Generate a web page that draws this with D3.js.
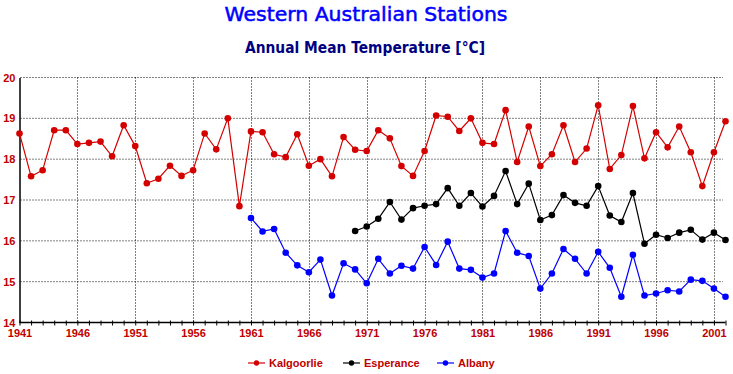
<!DOCTYPE html>
<html>
<head>
<meta charset="utf-8">
<script src="https://cdn.jsdelivr.net/npm/d3@7"></script>
<style>
  html, body { margin: 0; padding: 0; background: #fff; }
  svg { display: block; }
</style>
</head>
<body>
<svg id="chart" width="733" height="374"></svg>
<script>
const kalgoorlieYears = d3.range(1941, 2003);
const kalgoorlie = [18.63,17.58,17.73,18.71,18.71,18.37,18.40,18.43,18.07,18.83,
  18.32,17.41,17.52,17.84,17.59,17.73,18.63,18.24,19.00,16.85,
  18.68,18.66,18.12,18.05,18.61,17.84,18.00,17.58,18.54,18.23,
  18.20,18.71,18.51,17.83,17.59,18.20,19.07,19.04,18.69,19.00,
  18.40,18.37,19.20,17.93,18.80,17.83,18.12,18.83,17.93,18.26,
  19.32,17.76,18.10,19.30,18.02,18.66,18.29,18.80,18.17,17.34,
  18.17,18.93];
const esperanceYears = d3.range(1970, 2003);
const esperance = [16.24,16.35,16.54,16.95,16.52,16.80,16.86,16.90,17.29,16.86,17.17,
  16.84,17.10,17.71,16.90,17.40,16.51,16.63,17.12,16.93,16.86,
  17.34,16.62,16.46,17.17,15.93,16.15,16.07,16.20,16.27,16.03,
  16.20,16.02];
const albanyYears = d3.range(1961, 2003);
const albany = [16.56,16.23,16.29,15.71,15.40,15.23,15.54,14.66,15.45,15.30,
  14.96,15.56,15.20,15.39,15.32,15.85,15.41,15.98,15.32,15.29,
  15.10,15.20,16.24,15.71,15.63,14.83,15.20,15.80,15.56,15.20,
  15.73,15.34,14.63,15.66,14.66,14.71,14.79,14.76,15.05,15.02,
  14.83,14.63];
const xLabelYears = d3.range(1941, 2002, 5);
const yTicks = [14, 15, 16, 17, 18, 19, 20];
const seriesNames = ["Kalgoorlie", "Esperance", "Albany"];
const seriesColors = ["#d40000", "#000000", "#0000ff"];

const series = [
  { name: seriesNames[0], color: seriesColors[0], data: kalgoorlieYears.map((y, i) => [y, kalgoorlie[i]]) },
  { name: seriesNames[1], color: seriesColors[1], data: esperanceYears.map((y, i) => [y, esperance[i]]) },
  { name: seriesNames[2], color: seriesColors[2], data: albanyYears.map((y, i) => [y, albany[i]]) }
];

const svg = d3.select("#chart");
const x = d3.scaleLinear().domain([1941, 2002]).range([19.5, 725.5]);
const y = d3.scaleLinear().domain([14, 20]).range([322.5, 77.5]);
const labelColor = "#c00000";

// Titles
svg.append("text").attr("x", 366).attr("y", 21)
  .attr("text-anchor", "middle")
  .attr("font-family", "'DejaVu Sans', sans-serif")
  .attr("font-size", 19).attr("fill", "#0000ff")
  .attr("stroke", "#0000ff").attr("stroke-width", 0.5)
  .attr("textLength", 283).attr("lengthAdjust", "spacingAndGlyphs")
  .text("Western Australian Stations");
svg.append("text").attr("x", 365).attr("y", 52.5)
  .attr("text-anchor", "middle")
  .attr("font-family", "'DejaVu Sans', sans-serif")
  .attr("font-weight", "bold")
  .attr("font-size", 15).attr("fill", "#000080")
  .attr("textLength", 240).attr("lengthAdjust", "spacingAndGlyphs")
  .text("Annual Mean Temperature [°C]");

// Grid
const grid = svg.append("g").attr("stroke", "#000").attr("stroke-width", 1)
  .attr("stroke-dasharray", "1,2");
grid.selectAll("line.h").data(yTicks.filter(d => d > 14)).enter().append("line")
  .attr("x1", x(1941) + 1).attr("x2", 723)
  .attr("y1", d => y(d)).attr("y2", d => y(d));
grid.selectAll("line.v").data(xLabelYears.filter(d => d > 1941)).enter().append("line")
  .attr("x1", d => Math.round(x(d)) + 0.5).attr("x2", d => Math.round(x(d)) + 0.5)
  .attr("y1", y(20)).attr("y2", y(14));

// X axis
const xAxis = d3.axisBottom(x).tickValues(d3.range(1941, 2003)).tickSize(3)
  .tickFormat(d => (xLabelYears.includes(d) ? d : ""));
const gx = svg.append("g").attr("transform", `translate(0,${y(14)})`).call(xAxis);
gx.select(".domain").attr("d", `M${x(1941)},0H${x(2002)}`).attr("stroke", "#000").attr("stroke-width", 1.5);
gx.selectAll(".tick line").attr("y1", -2).attr("y2", 3).attr("stroke", "#000");
gx.selectAll(".tick text").attr("y", 14).attr("dy", 0)
  .attr("font-family", "'Liberation Sans', Arial, sans-serif")
  .attr("font-weight", "bold").attr("font-size", 11).attr("fill", labelColor);

// Y axis
const yAxis = d3.axisLeft(y).tickValues(yTicks).tickSize(0).tickPadding(4).tickFormat(d3.format("d"));
const gy = svg.append("g").attr("transform", `translate(${x(1941)},0)`).call(yAxis);
gy.select(".domain").attr("stroke", "#000").attr("stroke-width", 1.5);
gy.selectAll(".tick text").attr("dy", "0.32em")
  .attr("font-family", "'Liberation Sans', Arial, sans-serif")
  .attr("font-weight", "bold").attr("font-size", 11).attr("fill", labelColor);

// Lines & markers
const line = d3.line().x(d => x(d[0])).y(d => y(d[1]));
series.forEach(s => {
  svg.append("path").datum(s.data).attr("d", line)
    .attr("fill", "none").attr("stroke", s.color).attr("stroke-width", 1.2);
  svg.append("g").selectAll("circle").data(s.data).enter().append("circle")
    .attr("cx", d => x(d[0])).attr("cy", d => y(d[1])).attr("r", 3.3)
    .attr("fill", s.color);
});

// Legend
const legendX = [248, 343, 437];
series.forEach((s, i) => {
  const g = svg.append("g").attr("transform", `translate(${legendX[i]},363)`);
  g.append("line").attr("x1", 0).attr("x2", 17).attr("y1", 0).attr("y2", 0)
    .attr("stroke", s.color).attr("stroke-width", 1.2);
  g.append("circle").attr("cx", 8.5).attr("cy", 0).attr("r", 2.7).attr("fill", s.color);
  g.append("text").attr("x", 21).attr("y", 0).attr("dy", "0.36em")
    .attr("font-family", "'Liberation Sans', Arial, sans-serif")
    .attr("font-weight", "bold").attr("font-size", 11).attr("fill", labelColor)
    .text(s.name);
});
</script>
</body>
</html>
